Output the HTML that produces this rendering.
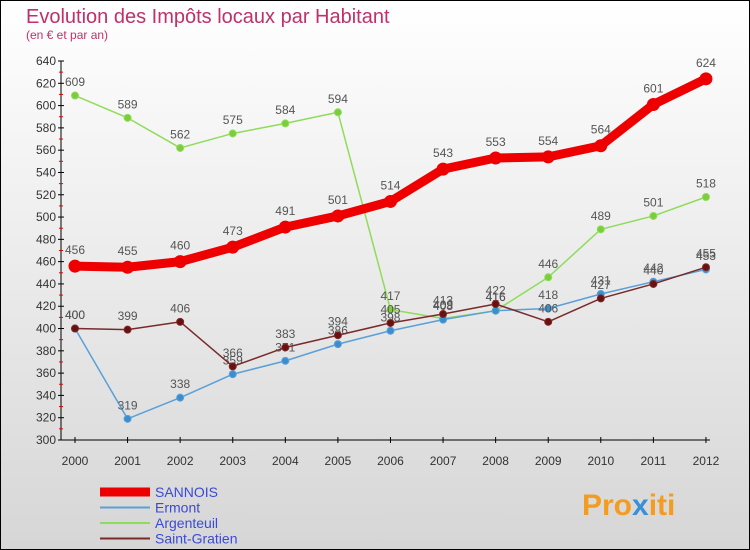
<!DOCTYPE html>
<html><head><meta charset="utf-8"><style>
body{margin:0;width:750px;height:550px;overflow:hidden;font-family:"Liberation Sans",sans-serif}
#c{position:absolute;left:0;top:0;width:748px;height:548px;border:1px solid #000;background:linear-gradient(#fff,#d6d6d6)}
</style></head><body>
<div id="c">
<svg id="s" width="750" height="550" style="position:absolute;left:-1px;top:-1px">
<text x="26" y="23" font-size="20" fill="#c0306a">Evolution des Impôts locaux par Habitant</text>
<text x="26" y="39" font-size="12" fill="#c0306a">(en € et par an)</text>
<text x="582" y="515" font-size="30" font-weight="bold" fill="#f39c20">Pro<tspan fill="#3a8fd8">x</tspan>iti</text>
</svg>
</div>
<script>
const years=[2000,2001,2002,2003,2004,2005,2006,2007,2008,2009,2010,2011,2012];
const yTicks=[300,320,340,360,380,400,420,440,460,480,500,520,540,560,580,600,620,640];
const sannois=[456,455,460,473,491,501,514,543,553,554,564,601,624];
const ermont=[400,319,338,359,371,386,398,408,416,418,431,442,453];
const argenteuil=[609,589,562,575,584,594,417,409,416,446,489,501,518];
const saintGratien=[400,399,406,366,383,394,405,413,422,406,427,440,455];
const svg=document.getElementById('s'),NS='http://www.w3.org/2000/svg';
const X=i=>75+i*52.58, Y=v=>440-(v-300)*379/340;
function mk(t,a,p){const e=document.createElementNS(NS,t);for(const k in a)e.setAttribute(k,a[k]);(p||svg).appendChild(e);return e;}
const ax=mk('g',{});


mk('line',{x1:61,y1:61,x2:61,y2:440,stroke:'#000'},ax);
mk('line',{x1:61,y1:440,x2:710,y2:440,stroke:'#000'},ax);
yTicks.forEach(v=>{const y=Y(v);
mk('line',{x1:58,y1:y,x2:64,y2:y,stroke:'#000'},ax);
if(v<640)mk('line',{x1:59,y1:y-11.15,x2:63,y2:y-11.15,stroke:'#e00'},ax);
const t=mk('text',{x:56,y:y+4,'font-size':12,'text-anchor':'end',fill:'#333'},ax);t.textContent=v;

});
years.forEach((yr,i)=>{const x=X(i);mk('line',{x1:x,y1:437,x2:x,y2:443,stroke:'#000'},ax);
const t=mk('text',{x:x,y:465,'font-size':12,'text-anchor':'middle',fill:'#333'},ax);t.textContent=yr;

});
function series(d,col,w,r,dot,name){const g=mk('g',{});


mk('polyline',{points:d.map((v,i)=>X(i)+','+Y(v)).join(' '),fill:'none',stroke:col,'stroke-width':w,'stroke-linejoin':'round'},g);
d.forEach((v,i)=>{const c=mk('circle',{cx:X(i),cy:Y(v),r:r,fill:dot,stroke:col,'stroke-width':1},g);


const t=mk('text',{x:X(i),y:Y(v)-(r+6),'font-size':12,'text-anchor':'middle',fill:'#555'},g);t.textContent=v;

});}
series(argenteuil,'#8edc5a',1.5,3.5,'#7ccc3c','series-argenteuil');
series(ermont,'#5aa0d8',1.5,3.5,'#3a8ed0','series-ermont');
series(saintGratien,'#7a2a2a',1.5,3.5,'#6a1010','series-saint-gratien');
series(sannois,'#ee0000',9,6,'#ee0000','series-sannois');
const leg=[['SANNOIS','#ee0000',9],['Ermont','#5aa0d8',2],['Argenteuil','#8edc5a',2],['Saint-Gratien','#7a2a2a',2]];
leg.forEach((l,i)=>{const y=492+i*15.5;const g=mk('g',{});


mk('line',{x1:100,y1:y,x2:150,y2:y,stroke:l[1],'stroke-width':l[2]},g);
const t=mk('text',{x:155,y:y+5,'font-size':14,fill:'#3a4ad8'},g);t.textContent=l[0];});
</script>
</body></html>
